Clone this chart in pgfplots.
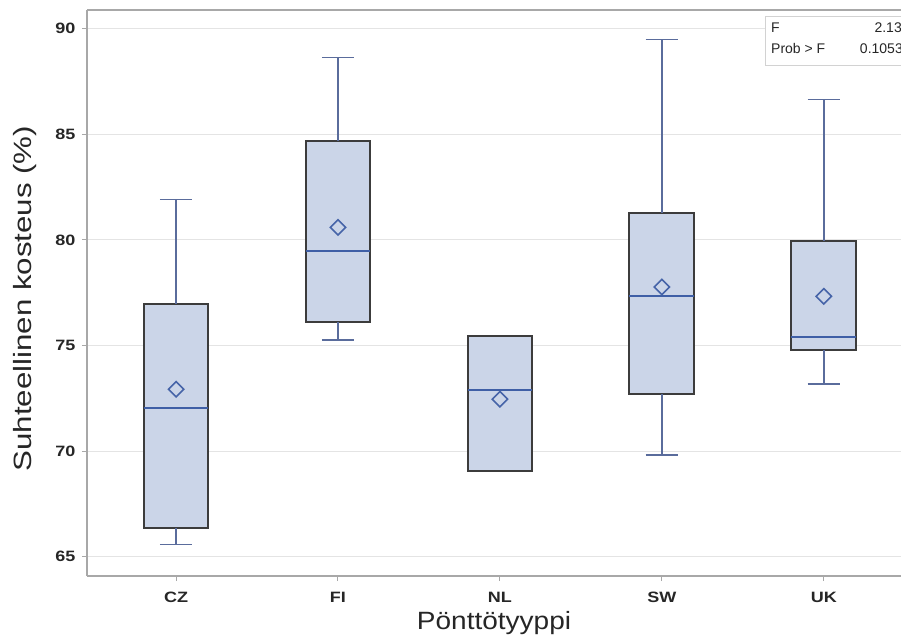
\documentclass[border=0pt]{standalone}
\usepackage{fontspec}
\setmainfont{Liberation Sans}
\newfontfamily\tickfont[FakeStretch=1.2]{Liberation Sans}
\newfontfamily\xlabfont[FakeStretch=1.12]{Liberation Sans}
\newfontfamily\ylabfont[FakeStretch=1.25]{Liberation Sans}
\usepackage{pgfplots}
\pgfplotsset{compat=1.18}
\definecolor{boxfill}{HTML}{CBD5E8}
\definecolor{boxedge}{HTML}{3C3C3C}
\definecolor{whisk}{HTML}{5A6C9C}
\definecolor{med}{HTML}{3F5FA6}
\definecolor{meanc}{HTML}{4664A8}
\definecolor{axgray}{HTML}{A8A8A8}
\definecolor{gridc}{HTML}{E4E4E4}
\begin{document}
\begin{tikzpicture}
\useasboundingbox (0,0) rectangle (901bp,642bp);
\begin{axis}[
  at={(87bp,66bp)}, anchor=south west,
  scale only axis, width=814bp, height=566bp,
  xmin=-0.55, xmax=4.477, ymin=64.09, ymax=90.88,
  axis x line*=box, axis y line*=left,
  xtick pos=lower, ytick pos=left,
  xtick={0,1,2,3,4}, xticklabels={CZ,FI,NL,SW,UK},
  ytick={65,70,75,80,85,90},
  tick align=outside, major tick length=5bp,
  tick style={color=axgray, line width=1bp},
  axis line style={color=axgray, line width=1.8bp},
  ymajorgrids, grid style={color=gridc, line width=1bp},
  /pgf/number format/assume math mode=true,
  ticklabel style={font={\fontsize{15bp}{17bp}\tickfont\bfseries}, text=black!85},
  yticklabel style={xshift=-3bp},
  xticklabel style={yshift=-8bp},
  xlabel={Pönttötyyppi},
  ylabel={Suhteellinen kosteus (\%)},
  xlabel style={font={\fontsize{25bp}{28bp}\xlabfont}, text=black!85, at={(axis description cs:0.5,0)}, anchor=center, yshift=-47bp},
  ylabel style={font={\fontsize{25bp}{28bp}\ylabfont}, text=black!85, at={(axis description cs:-0.0762,0.49)}, anchor=center},
  unbounded coords=jump,
  boxst/.style={draw=boxedge, fill=boxfill, line width=2bp, mark=none},
]
% boxes (lower quartile to upper quartile)
\addplot[boxst] coordinates {(-0.2,66.37) (0.2,66.37) (0.2,76.98) (-0.2,76.98)} --cycle;
\addplot[boxst] coordinates {(0.8,76.09) (1.2,76.09) (1.2,84.70) (0.8,84.70)} --cycle;
\addplot[boxst] coordinates {(1.8,69.04) (2.2,69.04) (2.2,75.43) (1.8,75.43)} --cycle;
\addplot[boxst] coordinates {(2.8,72.71) (3.2,72.71) (3.2,81.27) (2.8,81.27)} --cycle;
\addplot[boxst] coordinates {(3.8,74.80) (4.2,74.80) (4.2,79.96) (3.8,79.96)} --cycle;
% whiskers and caps
\addplot[draw=whisk, line width=1.5bp, mark=none] coordinates {
 (0,76.98) (0,81.90) (nan,nan) (-0.1,81.90) (0.1,81.90) (nan,nan)
 (0,66.37) (0,65.59) (nan,nan) (-0.1,65.59) (0.1,65.59) (nan,nan)
 (1,84.70) (1,88.63) (nan,nan) (0.9,88.63) (1.1,88.63) (nan,nan)
 (1,76.09) (1,75.27) (nan,nan) (0.9,75.27) (1.1,75.27) (nan,nan)
 (3,81.27) (3,89.49) (nan,nan) (2.9,89.49) (3.1,89.49) (nan,nan)
 (3,72.71) (3,69.82) (nan,nan) (2.9,69.82) (3.1,69.82) (nan,nan)
 (4,79.96) (4,86.64) (nan,nan) (3.9,86.64) (4.1,86.64) (nan,nan)
 (4,74.80) (4,73.18) (nan,nan) (3.9,73.18) (4.1,73.18)
};
% medians
\addplot[draw=med, line width=2bp, mark=none] coordinates {
 (-0.2,72.06) (0.2,72.06) (nan,nan)
 (0.8,79.45) (1.2,79.45) (nan,nan)
 (1.8,72.90) (2.2,72.90) (nan,nan)
 (2.8,77.36) (3.2,77.36) (nan,nan)
 (3.8,75.40) (4.2,75.40)
};
% means
\addplot[only marks, mark=square, mark size=5.4bp, mark options={rotate=45, draw=meanc, line width=1.6bp, fill=none}] coordinates {(0,72.93) (1,80.59) (2,72.46) (3,77.77) (4,77.33)};
\end{axis}
\draw[color=gray!35, line width=1bp, fill=white] (765bp,576bp) rectangle (915bp,625.3bp);
\begin{scope}[every node/.style={inner sep=0pt, font={\fontsize{14bp}{16bp}\selectfont}, text=black!85}]
\node[anchor=base west] at (771bp,609.3bp) {F};
\node[anchor=base east] at (902bp,609.3bp) {2.13};
\node[anchor=base west] at (771bp,588.7bp) {Prob > F};
\node[anchor=base east] at (903bp,588.7bp) {0.1053};
\end{scope}
\end{tikzpicture}
\end{document}
